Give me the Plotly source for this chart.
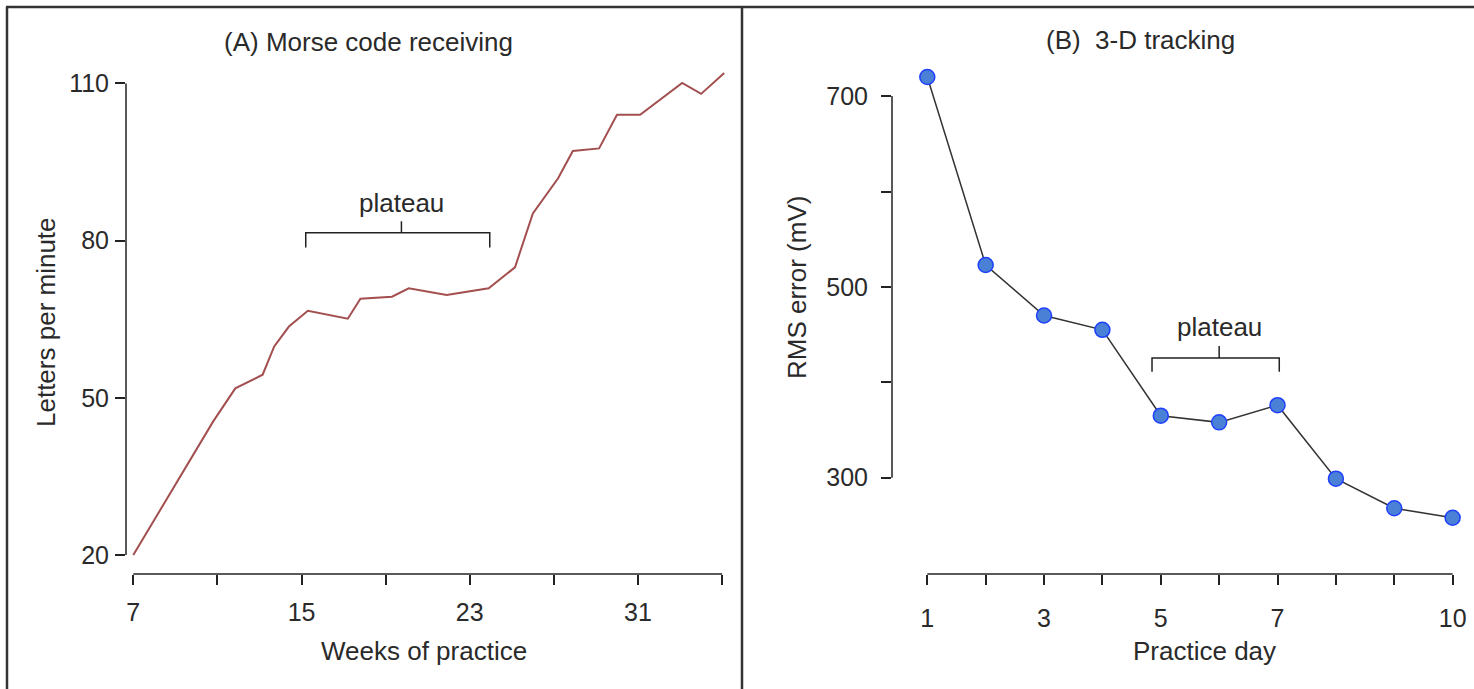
import plotly.graph_objects as go

# ---------------- data ----------------
weeks = [7, 10.8, 11.85, 13.15, 13.7, 14.4, 15.3, 17.2, 17.8, 19.3, 20.1, 21.9,
         23.9, 25.15, 26.0, 27.2, 27.9, 29.15, 30.0, 31.1, 33.1, 34.0, 35.1]
letters = [20, 45.5, 51.8, 54.4, 59.8, 63.6, 66.6, 65.1, 68.9, 69.3, 70.9, 69.6,
           70.9, 74.9, 85.2, 91.9, 97.1, 97.6, 104, 104, 110.1, 108, 112]

days = [1, 2, 3, 4, 5, 6, 7, 8, 9, 10]
rms = [720, 523, 470, 455, 365, 358, 376, 299, 268, 258]

a_xticks = [7, 11, 15, 19, 23, 27, 31, 35]
a_xlabels = ["7", "", "15", "", "23", "", "31", ""]
a_yticks = [20, 50, 80, 110]
b_xticks = [1, 2, 3, 4, 5, 6, 7, 8, 9, 10]
b_xlabels = ["1", "", "3", "", "5", "", "7", "", "", "10"]
b_yticks = [300, 400, 500, 600, 700]
b_ylabels = ["300", "", "500", "", "700"]

# bracket spans (data units)
a_plateau = dict(x0=15.2, x1=23.95, xc=19.75, ymid=81.5, ybot=78.7, ytop=83.7, ytext=87.2)
b_plateau = dict(x0=4.85, x1=7.03, xc=6.0, ymid=425.4, ybot=411, ytop=438, ytext=458)

# ---------------- layout geometry (pixels) ----------------
W, H = 1474, 689
FONT = "Liberation Sans, Arial, Helvetica, sans-serif"
INK = "#222222"
TXT = "#2a2a2a"

def px(x):
    return x / W

def py(y):
    return 1 - y / H

# panel A calibration: week 7 at x=133.3, 21.03 px/week; value 20 at y=555, 5.24 px/unit
A_left, A_right, top, bottom = 126, 740, 60, 574
a_xr = [7 - (133.3 - A_left) / 21.03, 7 + (A_right - 133.3) / 21.03]
a_yr = [20 - (bottom - 555) / 5.24, 20 + (555 - top) / 5.24]
# panel B calibration: day 1 at x=927.3, 58.37 px/day; value 300 at y=477.7, 0.954 px/unit
B_left, B_right = 892, 1474
b_xr = [1 - (927.3 - B_left) / 58.37, 1 + (B_right - 927.3) / 58.37]
b_yr = [300 - (bottom - 477.7) / 0.954, 300 + (477.7 - top) / 0.954]

fig = go.Figure()
fig.add_trace(go.Scatter(x=weeks, y=letters, mode="lines",
                         line=dict(color="#A34F4F", width=2),
                         xaxis="x", yaxis="y", showlegend=False))
fig.add_trace(go.Scatter(x=days, y=rms, mode="lines+markers",
                         line=dict(color="#333333", width=1.5),
                         marker=dict(size=15, color="#4A80D6",
                                     line=dict(color="#1F3FFF", width=1.5)),
                         xaxis="x2", yaxis="y2", showlegend=False))

tickfont = dict(family=FONT, size=25, color=TXT)
common_axis = dict(showgrid=False, zeroline=False, showline=False, ticks="outside",
                   ticklen=10, tickwidth=1.5, tickcolor=INK, tickfont=tickfont,
                   fixedrange=True)

fig.update_layout(
    width=W, height=H,
    margin=dict(l=0, r=0, t=0, b=0),
    paper_bgcolor="white", plot_bgcolor="white",
    xaxis=dict(domain=[px(A_left), px(A_right)], range=a_xr, anchor="y",
               tickmode="array", tickvals=a_xticks, ticktext=a_xlabels,
               ticklabelstandoff=6, **common_axis),
    yaxis=dict(domain=[py(bottom), py(top)], range=a_yr, anchor="x",
               tickmode="array", tickvals=a_yticks, ticklabelstandoff=1, **common_axis),
    xaxis2=dict(domain=[px(B_left), px(B_right)], range=b_xr, anchor="y2",
                tickmode="array", tickvals=b_xticks, ticktext=b_xlabels,
                ticklabelstandoff=12, **common_axis),
    yaxis2=dict(domain=[py(bottom), py(top)], range=b_yr, anchor="x2",
                tickmode="array", tickvals=b_yticks, ticktext=b_ylabels,
                ticklabelstandoff=8, **common_axis),
)

shapes = []
line_style = dict(color=INK, width=1.5)
# R-style axis lines spanning only the tick range
shapes.append(dict(type="line", xref="x", yref="y domain", x0=a_xticks[0], x1=a_xticks[-1],
                   y0=0, y1=0, line=line_style))
shapes.append(dict(type="line", xref="x domain", yref="y", x0=0, x1=0,
                   y0=a_yticks[0], y1=a_yticks[-1], line=line_style))
shapes.append(dict(type="line", xref="x2", yref="y2 domain", x0=b_xticks[0], x1=b_xticks[-1],
                   y0=0, y1=0, line=line_style))
shapes.append(dict(type="line", xref="x2 domain", yref="y2", x0=0, x1=0,
                   y0=b_yticks[0], y1=b_yticks[-1], line=line_style))

# plateau brackets
for p, xr, yr in [(a_plateau, "x", "y"), (b_plateau, "x2", "y2")]:
    path = (f"M {p['x0']},{p['ybot']} L {p['x0']},{p['ymid']} L {p['x1']},{p['ymid']} "
            f"L {p['x1']},{p['ybot']} M {p['xc']},{p['ymid']} L {p['xc']},{p['ytop']}")
    shapes.append(dict(type="path", xref=xr, yref=yr, path=path, line=line_style))

# frame lines
frame = dict(color="#333333", width=2.5)
shapes.append(dict(type="line", xref="paper", yref="paper", x0=px(6), x1=1, y0=py(7), y1=py(7), line=frame))
shapes.append(dict(type="line", xref="paper", yref="paper", x0=px(7), x1=px(7), y0=0, y1=py(7), line=frame))
shapes.append(dict(type="line", xref="paper", yref="paper", x0=px(742), x1=px(742), y0=0, y1=py(7), line=frame))
fig.update_layout(shapes=shapes)

tfont = dict(family=FONT, size=26, color=TXT)
annotations = [
    dict(text="(A) Morse code receiving", x=px(368), y=py(42), xref="paper", yref="paper",
         showarrow=False, font=tfont, xanchor="center", yanchor="middle"),
    dict(text="(B)\u00a0 3-D tracking", x=px(1140), y=py(40), xref="paper", yref="paper",
         showarrow=False, font=tfont, xanchor="center", yanchor="middle"),
    dict(text="Weeks of practice", x=px(424), y=py(651), xref="paper", yref="paper",
         showarrow=False, font=tfont, xanchor="center", yanchor="middle"),
    dict(text="Practice day", x=px(1204), y=py(651), xref="paper", yref="paper",
         showarrow=False, font=tfont, xanchor="center", yanchor="middle"),
    dict(text="Letters per minute", x=px(46), y=py(322), xref="paper", yref="paper",
         showarrow=False, font=tfont, textangle=-90, xanchor="center", yanchor="middle"),
    dict(text="RMS error (mV)", x=px(797), y=py(288), xref="paper", yref="paper",
         showarrow=False, font=tfont, textangle=-90, xanchor="center", yanchor="middle"),
    dict(text="plateau", x=a_plateau["xc"], y=a_plateau["ytext"], xref="x", yref="y",
         showarrow=False, font=tfont, xanchor="center", yanchor="middle"),
    dict(text="plateau", x=b_plateau["xc"], y=b_plateau["ytext"], xref="x2", yref="y2",
         showarrow=False, font=tfont, xanchor="center", yanchor="middle"),
]
fig.update_layout(annotations=annotations)

fig.write_html("out.html")
